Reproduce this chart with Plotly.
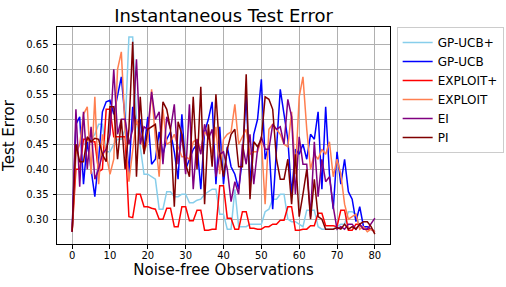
import plotly.graph_objects as go

x = list(range(81))

gp_ucb_plus = [0.275, 0.44, 0.45, 0.45, 0.45, 0.46, 0.47, 0.49, 0.49, 0.435, 0.435, 0.45, 0.46, 0.46, 0.48, 0.665, 0.665, 0.50, 0.44, 0.39,
               0.39, 0.385, 0.38, 0.32, 0.32, 0.355, 0.355, 0.345, 0.345, 0.35, 0.35, 0.333, 0.333, 0.338, 0.34, 0.35, 0.355, 0.36, 0.36, 0.31,
               0.31, 0.28, 0.28, 0.36, 0.285, 0.285, 0.285, 0.29, 0.29, 0.29, 0.29, 0.315, 0.32, 0.34, 0.34, 0.35, 0.35, 0.30, 0.295, 0.295,
               0.29, 0.285, 0.318, 0.318, 0.318, 0.285, 0.28, 0.28, 0.28, 0.28, 0.285, 0.29, 0.29, 0.315, 0.315, 0.31, 0.285, 0.285, 0.28, 0.28,
               0.275]
gp_ucb = [0.275, 0.49, 0.505, 0.37, 0.455, 0.40, 0.345, 0.42, 0.515, 0.535, 0.538, 0.51, 0.545, 0.585, 0.50, 0.39, 0.525, 0.49, 0.50, 0.44,
          0.505, 0.41, 0.42, 0.475, 0.43, 0.46, 0.475, 0.435, 0.38, 0.51, 0.40, 0.42, 0.44, 0.45, 0.36, 0.475, 0.50, 0.535, 0.37, 0.485,
          0.37, 0.445, 0.405, 0.39, 0.36, 0.42, 0.55, 0.37, 0.47, 0.50, 0.58, 0.42, 0.45, 0.32, 0.44, 0.56, 0.51, 0.46, 0.35, 0.44,
          0.43, 0.45, 0.42, 0.47, 0.46, 0.515, 0.36, 0.525, 0.39, 0.32, 0.435, 0.37, 0.42, 0.355, 0.34, 0.295, 0.325, 0.285, 0.285, 0.28,
          0.275]
exploit_plus = [0.275, 0.40, 0.40, 0.46, 0.46, 0.455, 0.455, 0.395, 0.40, 0.52, 0.52, 0.465, 0.465, 0.465, 0.465, 0.305, 0.303, 0.35, 0.35, 0.325,
                0.325, 0.322, 0.32, 0.30, 0.30, 0.322, 0.322, 0.285, 0.285, 0.325, 0.325, 0.297, 0.297, 0.318, 0.318, 0.278, 0.278, 0.28, 0.28, 0.367,
                0.367, 0.302, 0.302, 0.28, 0.28, 0.315, 0.315, 0.282, 0.282, 0.28, 0.28, 0.285, 0.285, 0.29, 0.29, 0.298, 0.298, 0.325, 0.325, 0.278,
                0.278, 0.28, 0.28, 0.287, 0.287, 0.312, 0.312, 0.287, 0.287, 0.287, 0.285, 0.318, 0.318, 0.278, 0.278, 0.29, 0.29, 0.28, 0.28, 0.28,
                0.275]
exploit = [0.275, 0.43, 0.45, 0.51, 0.525, 0.39, 0.545, 0.37, 0.47, 0.43, 0.39, 0.42, 0.60, 0.635, 0.48, 0.375, 0.44, 0.50, 0.47, 0.435,
           0.455, 0.56, 0.46, 0.385, 0.52, 0.45, 0.455, 0.47, 0.445, 0.425, 0.425, 0.42, 0.455, 0.46, 0.44, 0.475, 0.465, 0.43, 0.485, 0.39,
           0.46, 0.47, 0.475, 0.53, 0.45, 0.465, 0.48, 0.43, 0.435, 0.435, 0.46, 0.33, 0.48, 0.49, 0.48, 0.47, 0.45, 0.445, 0.515, 0.39,
           0.545, 0.585, 0.48, 0.40, 0.43, 0.42, 0.44, 0.43, 0.455, 0.385, 0.42, 0.39, 0.33, 0.30, 0.305, 0.31, 0.28, 0.285, 0.275, 0.28,
           0.275]
ei = [0.275, 0.52, 0.365, 0.515, 0.40, 0.485, 0.38, 0.40, 0.43, 0.44, 0.47, 0.60, 0.47, 0.50, 0.50, 0.45, 0.48, 0.62, 0.45, 0.485,
      0.48, 0.555, 0.50, 0.515, 0.41, 0.505, 0.48, 0.53, 0.41, 0.47, 0.39, 0.53, 0.36, 0.46, 0.43, 0.49, 0.46, 0.48, 0.385, 0.43,
      0.435, 0.40, 0.335, 0.375, 0.35, 0.45, 0.41, 0.47, 0.37, 0.44, 0.465, 0.44, 0.44, 0.49, 0.48, 0.485, 0.45, 0.54, 0.505, 0.35,
      0.465, 0.41, 0.41, 0.305, 0.455, 0.345, 0.42, 0.375, 0.385, 0.325, 0.28, 0.285, 0.28, 0.29, 0.29, 0.28, 0.29, 0.28, 0.28, 0.29,
      0.302]
pi = [0.275, 0.45, 0.415, 0.415, 0.465, 0.455, 0.462, 0.46, 0.43, 0.415, 0.525, 0.525, 0.42, 0.50, 0.40, 0.48, 0.655, 0.385, 0.545, 0.43,
      0.48, 0.485, 0.49, 0.42, 0.535, 0.52, 0.48, 0.325, 0.495, 0.47, 0.41, 0.385, 0.545, 0.40, 0.565, 0.33, 0.49, 0.405, 0.55, 0.435,
      0.385, 0.44, 0.47, 0.48, 0.405, 0.405, 0.59, 0.34, 0.455, 0.445, 0.46, 0.545, 0.54, 0.52, 0.42, 0.38, 0.38, 0.42, 0.33, 0.43,
      0.305, 0.35, 0.40, 0.30, 0.38, 0.305, 0.30, 0.28, 0.28, 0.28, 0.283, 0.28, 0.29, 0.28, 0.285, 0.28, 0.29, 0.295, 0.295, 0.285,
      0.27]

series = [
    ("GP-UCB+", gp_ucb_plus, "#87CEEB"),
    ("GP-UCB", gp_ucb, "#0000FF"),
    ("EXPLOIT+", exploit_plus, "#FF0000"),
    ("EXPLOIT", exploit, "#FF7F50"),
    ("EI", ei, "#800080"),
    ("PI", pi, "#800000"),
]

fig = go.Figure()
for name, ys, col in series:
    fig.add_trace(go.Scatter(x=x, y=ys, mode="lines", name=name,
                             line=dict(color=col, width=1.5)))

W, H = 506, 287
font = "DejaVu Sans"
L, R, T, B = 56.5, 390.5, 26.5, 244
fig.update_layout(
    width=W, height=H,
    margin=dict(l=L, r=W - R, t=T, b=H - B, autoexpand=False),
    paper_bgcolor="white", plot_bgcolor="white",
    font=dict(family=font, color="black", size=10),
    hovermode=False,
    title=dict(text="Instantaneous Test Error", x=(L + R) / 2 / W, xanchor="center",
               y=1 - 21.5 / H, yanchor="bottom", yref="container",
               font=dict(size=18, family=font, color="black")),
    showlegend=True,
    legend=dict(x=1.02, y=1.0, xanchor="left", yanchor="top",
                bordercolor="#cccccc", borderwidth=1, bgcolor="white",
                font=dict(size=12, family=font, color="black"),
                tracegroupgap=0),
)
fig.update_xaxes(range=[-4, 84], tickmode="array", tickvals=list(range(0, 81, 10)),
                 showgrid=True, gridcolor="#b0b0b0", gridwidth=1,
                 showline=True, linecolor="black", linewidth=1, mirror=True,
                 ticks="outside", ticklen=3.5, tickcolor="black",
                 zeroline=False, automargin=False, ticklabelstandoff=-2,
                 title=dict(text="Noise-free Observations", font=dict(size=15, family=font), standoff=4))
fig.update_yaxes(range=[0.2503, 0.6848], tickmode="array",
                 tickvals=[0.30, 0.35, 0.40, 0.45, 0.50, 0.55, 0.60, 0.65], tickformat=".2f",
                 showgrid=True, gridcolor="#b0b0b0", gridwidth=1,
                 showline=True, linecolor="black", linewidth=1, mirror=True,
                 ticks="outside", ticklen=3.5, tickcolor="black",
                 zeroline=False, automargin=False, ticklabelstandoff=2,
                 title=dict(text="Test Error", font=dict(size=15, family=font), standoff=11))

fig.write_html("out.html", config={"displayModeBar": False},
               post_script="document.body.style.margin='0';")
